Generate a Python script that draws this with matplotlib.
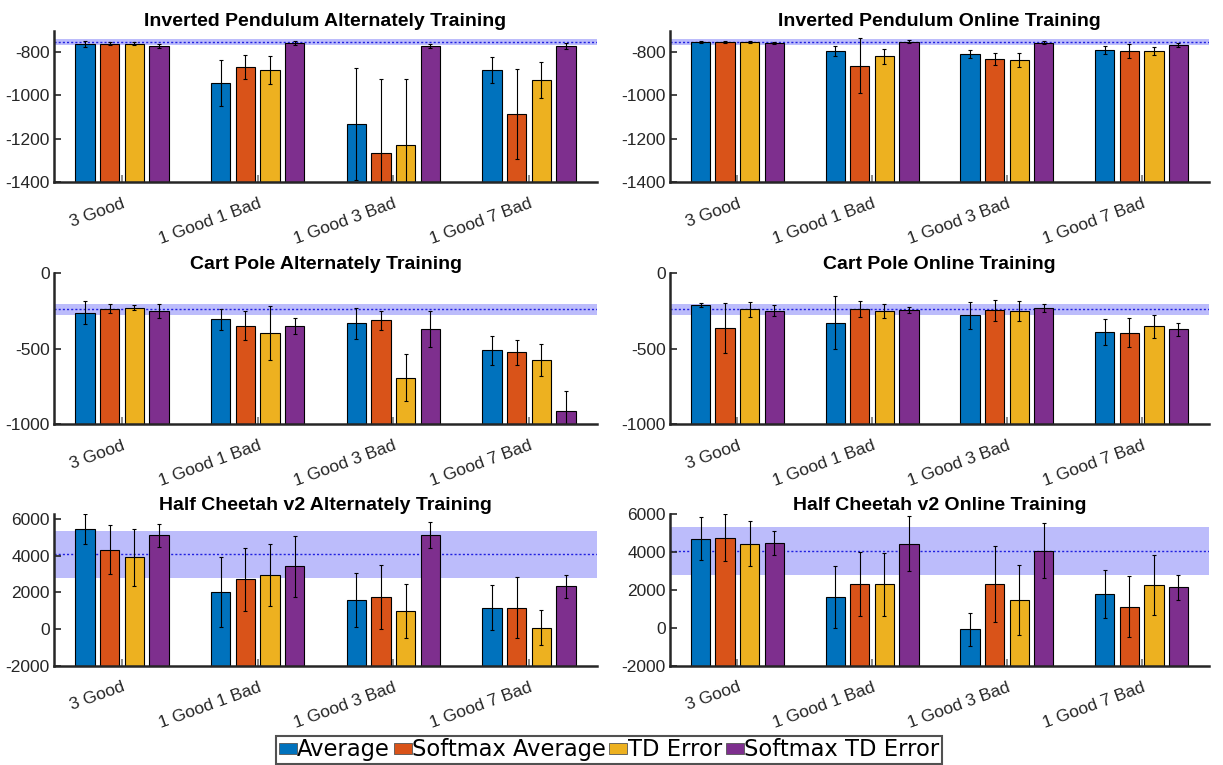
import numpy as np
import matplotlib
matplotlib.use('Agg')
import matplotlib.pyplot as plt
from matplotlib.patches import Patch

categories = ['3 Good', '1 Good 1 Bad', '1 Good 3 Bad', '1 Good 7 Bad']
methods = ['Average', 'Softmax Average', 'TD Error', 'Softmax TD Error']
colors = ['#0072BD', '#D95319', '#EDB120', '#7E2F8E']

# rows = categories, cols = methods
ip_alt_mean = [[-764, -761, -761, -771], [-942, -868, -882, -757],
               [-1132, -1267, -1231, -771], [-882, -1086, -928, -772]]
ip_alt_err = [[14, 8, 8, 8], [107, 56, 64, 10], [259, 345, 309, 10], [60, 208, 82, 12]]

ip_on_mean = [[-754, -754, -754, -758], [-795, -863, -820, -752],
              [-808, -832, -836, -757], [-789, -794, -795, -766]]
ip_on_err = [[5, 5, 6, 6], [23, 128, 33, 6], [18, 29, 34, 7], [18, 32, 19, 9]]

cp_alt_mean = [[-261, -234, -228, -252], [-305, -347, -398, -350],
               [-332, -312, -692, -367], [-511, -524, -575, -914]]
cp_alt_err = [[74, 32, 18, 46], [69, 95, 178, 54], [103, 64, 154, 119], [98, 83, 108, 133]]

cp_on_mean = [[-210, -363, -239, -248], [-327, -237, -250, -241],
              [-279, -246, -250, -230], [-387, -394, -352, -372]]
cp_on_err = [[15, 169, 48, 36], [174, 52, 46, 20], [90, 71, 64, 27], [86, 95, 75, 41]]

hc_alt_mean = [[5453, 4342, 3923, 5125], [2010, 2720, 2957, 3431],
               [1591, 1755, 990, 5125], [1153, 1172, 79, 2338]]
hc_alt_err = [[811, 1348, 1558, 638], [1913, 1722, 1676, 1676],
              [1476, 1767, 1476, 711], [1230, 1667, 948, 638]]

hc_on_mean = [[4714, 4767, 4449, 4467], [1648, 2300, 2300, 4449],
              [-79, 2300, 1454, 4079], [1771, 1119, 2247, 2141]]
hc_on_err = [[1145, 1225, 1172, 634], [1630, 1700, 1648, 1436],
             [872, 2009, 1841, 1471], [1269, 1621, 1586, 678]]

# reference (single good agent) mean and band
ip_ref = (-753, -741, -766)
cp_ref = (-238, -206, -277)
hc_ref = (4075, 5350, 2800)

panels = [
    ('Inverted Pendulum Alternately Training', ip_alt_mean, ip_alt_err, (-1400, -700), [-1400, -1200, -1000, -800], ip_ref),
    ('Inverted Pendulum Online Training', ip_on_mean, ip_on_err, (-1400, -700), [-1400, -1200, -1000, -800], ip_ref),
    ('Cart Pole Alternately Training', cp_alt_mean, cp_alt_err, (-1000, 0), [-1000, -500, 0], cp_ref),
    ('Cart Pole Online Training', cp_on_mean, cp_on_err, (-1000, 0), [-1000, -500, 0], cp_ref),
    ('Half Cheetah v2 Alternately Training', hc_alt_mean, hc_alt_err, (-2000, 6270), [-2000, 0, 2000, 4000, 6000], hc_ref),
    ('Half Cheetah v2 Online Training', hc_on_mean, hc_on_err, (-2000, 6000), [-2000, 0, 2000, 4000, 6000], hc_ref),
]

W, H = 1223, 765
fig = plt.figure(figsize=(W / 100, H / 100), dpi=100)
col_x = [(54, 597), (670, 1209)]
row_y = [(30.5, 182), (273.3, 424), (514.3, 665.7)]

axcol = '#262626'
font = 'Liberation Sans'
offsets = np.array([-0.273, -0.091, 0.091, 0.273])
bw = 0.143
x = np.arange(1, len(categories) + 1)

for i, (title, mean, err, ylim, yticks, ref) in enumerate(panels):
    r, c = divmod(i, 2)
    x0, x1 = col_x[c]
    yt, yb = row_y[r]
    ax = fig.add_axes([x0 / W, 1 - yb / H, (x1 - x0) / W, (yb - yt) / H])
    mean = np.array(mean, dtype=float)
    err = np.array(err, dtype=float)
    base = ylim[0]
    ax.axhspan(ref[2], ref[1], color='#bcbcfb', zorder=0, lw=0)
    ax.axhline(ref[0], color='#2020e0', ls=(0, (1.5, 1.5)), lw=1.0, zorder=0.5)
    for j in range(len(methods)):
        ax.bar(x + offsets[j], mean[:, j] - base, bottom=base, width=bw,
               color=colors[j], edgecolor='black', linewidth=0.8, zorder=2)
        ax.errorbar(x + offsets[j], mean[:, j], yerr=err[:, j], fmt='none',
                    ecolor='black', elinewidth=0.8, capsize=1.5, capthick=0.8, zorder=3)
    ax.set_xlim(0.5, 4.5)
    ax.set_ylim(*ylim)
    ax.set_yticks(yticks)
    ax.set_yticklabels([str(v) for v in yticks], fontfamily=font, fontsize=12.5, color=axcol)
    ax.set_xticks(x)
    ax.set_xticklabels(categories, rotation=20, ha='right', rotation_mode='anchor',
                       fontfamily=font, fontsize=12.5, color=axcol)
    ax.tick_params(axis='x', direction='in', length=5, width=1.2, color='#777777', pad=10)
    ax.tick_params(axis='y', direction='in', length=5, width=1.2, color=axcol, pad=3)
    for s in ['top', 'right']:
        ax.spines[s].set_visible(False)
    for s in ['left', 'bottom']:
        ax.spines[s].set_color(axcol)
        ax.spines[s].set_linewidth(1.8)
        ax.spines[s].set_zorder(4)
    ax.set_title(title, fontfamily=font, fontweight='bold', fontsize=14, color='black', pad=3)

handles = [Patch(facecolor=colors[j], edgecolor='#555555', linewidth=0.6) for j in range(len(methods))]
leg = fig.legend(handles, methods, loc='upper center', bbox_to_anchor=(0.498, 1 - 736 / H),
                 ncol=4, frameon=True, fancybox=False, edgecolor='#262626',
                 prop={'family': 'DejaVu Sans', 'size': 16.3}, handlelength=0.8, handleheight=0.37,
                 handletextpad=0.02, columnspacing=0.15, borderpad=0.1, borderaxespad=0)
leg.get_frame().set_linewidth(1.5)

fig.savefig('out.png', dpi=100)
